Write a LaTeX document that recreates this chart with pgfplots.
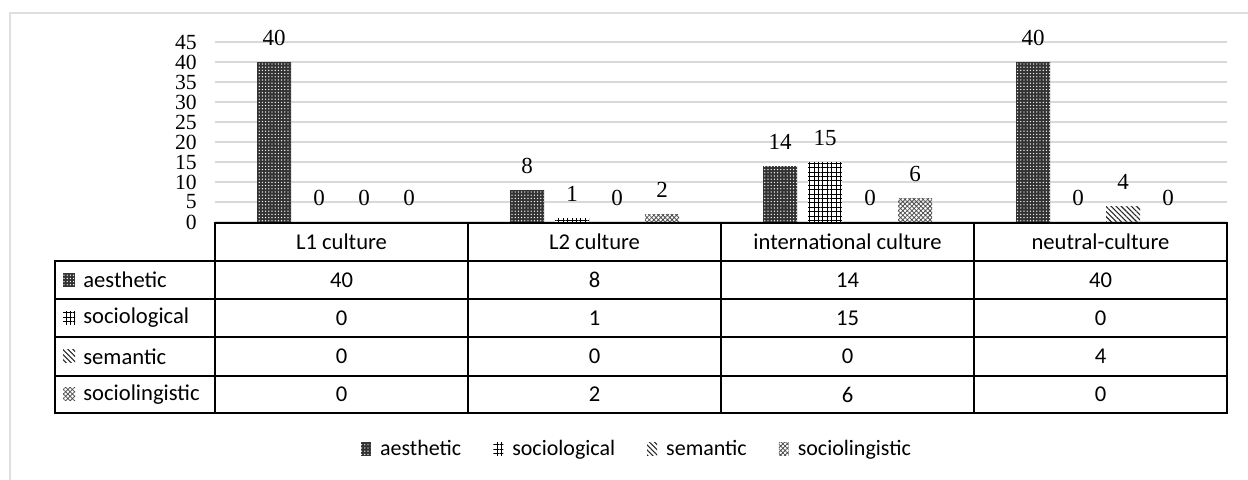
\documentclass[border=0pt]{standalone}
\usepackage{fontspec}
\setmainfont{Carlito}
\newfontfamily\numfont{Liberation Serif}
\usepackage{pgfplots}
\pgfplotsset{compat=1.18}
\usetikzlibrary{patterns.meta}

\tikzset{
 aesth/.style={fill=black!80, postaction={pattern={Dots[distance=1.6pt,radius=0.35pt]}, pattern color=white}},
 socio/.style={fill=white, postaction={pattern={Hatch[angle=0,distance=2.2pt,line width=0.45pt]}, pattern color=black}},
 seman/.style={pattern={Lines[angle=-45,distance=1.8pt,line width=0.55pt]}, pattern color=black!85},
 sling/.style={pattern={Hatch[angle=45,distance=1.6pt,line width=0.4pt]}, pattern color=black!70},
}

\begin{document}
\begin{tikzpicture}
\useasboundingbox (0pt,0pt) rectangle (624pt,-240pt);
\draw[gray!25, line width=0.8pt] (5pt,-240pt) -- (5pt,-6.5pt) -- (624pt,-6.5pt);
\begin{axis}[
 at={(107.5pt,-111pt)}, anchor=south west,
 scale only axis, width=506pt, height=90pt,
 ybar=5.5pt, bar width=17pt,
 xmin=-0.5, xmax=3.5, ymin=0, ymax=45, ytick distance=5,
 xtick=\empty,
 axis line style={draw=none},
 major tick length=0pt,
 ymajorgrids, grid style={gray!30, line width=0.6pt},
 yticklabel style={font=\numfont\fontsize{10.8}{10.8}\selectfont, inner sep=1pt, xshift=-8pt},
 /pgf/number format/assume math mode=true,
 nodes near coords,
 every node near coord/.append style={font=\numfont\fontsize{11.5}{11.5}\selectfont, yshift=4.5pt},
 clip=false,
 legend columns=4,
 legend style={at={(0.418,-1.261)}, anchor=center, draw=none, fill=none,
   font=\fontsize{11}{11}\selectfont,
   /tikz/every even column/.append style={column sep=14pt},
   /tikz/every odd column/.append style={column sep=2.5pt}},
 legend image code/.code={\fill[#1,draw=none] (0pt,-3.3pt) rectangle (5pt,3.3pt);},
]
\addplot[aesth, draw=none] coordinates {(0,40) (1,8) (2,14) (3,40)};
\addplot[socio, draw=none] coordinates {(0,0) (1,1) (2,15) (3,0)};
\addplot[seman, draw=none] coordinates {(0,0) (1,0) (2,0) (3,4)};
\addplot[sling, draw=none] coordinates {(0,0) (1,2) (2,6) (3,0)};
\legend{aesthetic, sociological, semantic, sociolingistic}
\end{axis}

% data table
\begin{scope}[line width=0.7pt]
\draw (107.5pt,-111.5pt) rectangle (613.5pt,-206.5pt);
\draw (27.5pt,-130.5pt) rectangle (107.5pt,-206.5pt);
\foreach \yy in {-130.5,-149.5,-168.5,-188} \draw (27.5pt,\yy pt) -- (613.5pt,\yy pt);
\foreach \xx in {234,360.5,487} \draw (\xx pt,-111.5pt) -- (\xx pt,-206.5pt);
\end{scope}
\begin{scope}[every node/.style={font=\fontsize{11.3}{11.3}\selectfont, anchor=center, inner sep=0pt}]
\node at (170.75pt,-121pt) {L1 culture};
\node at (297.25pt,-121pt) {L2 culture};
\node at (423.75pt,-121pt) {international culture};
\node at (550.25pt,-121pt) {neutral-culture};
% rows
\fill[aesth] (31.5pt,-143.3pt) rectangle (37.5pt,-136.7pt);
\node[anchor=west] at (41.5pt,-140pt) {aesthetic};
\fill[socio] (31.5pt,-162.3pt) rectangle (37.5pt,-155.7pt);
\node[anchor=west] at (41.5pt,-159pt) {sociological};
\fill[seman] (31.5pt,-181.5pt) rectangle (37.5pt,-175pt);
\node[anchor=west] at (41.5pt,-178.25pt) {semantic};
\fill[sling] (31.5pt,-200.5pt) rectangle (37.5pt,-194pt);
\node[anchor=west] at (41.5pt,-197.25pt) {sociolingistic};
\node at (170.75pt,-140pt) {40}; \node at (297.25pt,-140pt) {8}; \node at (423.75pt,-140pt) {14}; \node at (550.25pt,-140pt) {40};
\node at (170.75pt,-159pt) {0}; \node at (297.25pt,-159pt) {1}; \node at (423.75pt,-159pt) {15}; \node at (550.25pt,-159pt) {0};
\node at (170.75pt,-178.25pt) {0}; \node at (297.25pt,-178.25pt) {0}; \node at (423.75pt,-178.25pt) {0}; \node at (550.25pt,-178.25pt) {4};
\node at (170.75pt,-197.25pt) {0}; \node at (297.25pt,-197.25pt) {2}; \node at (423.75pt,-197.25pt) {6}; \node at (550.25pt,-197.25pt) {0};
\end{scope}
\end{tikzpicture}
\end{document}
